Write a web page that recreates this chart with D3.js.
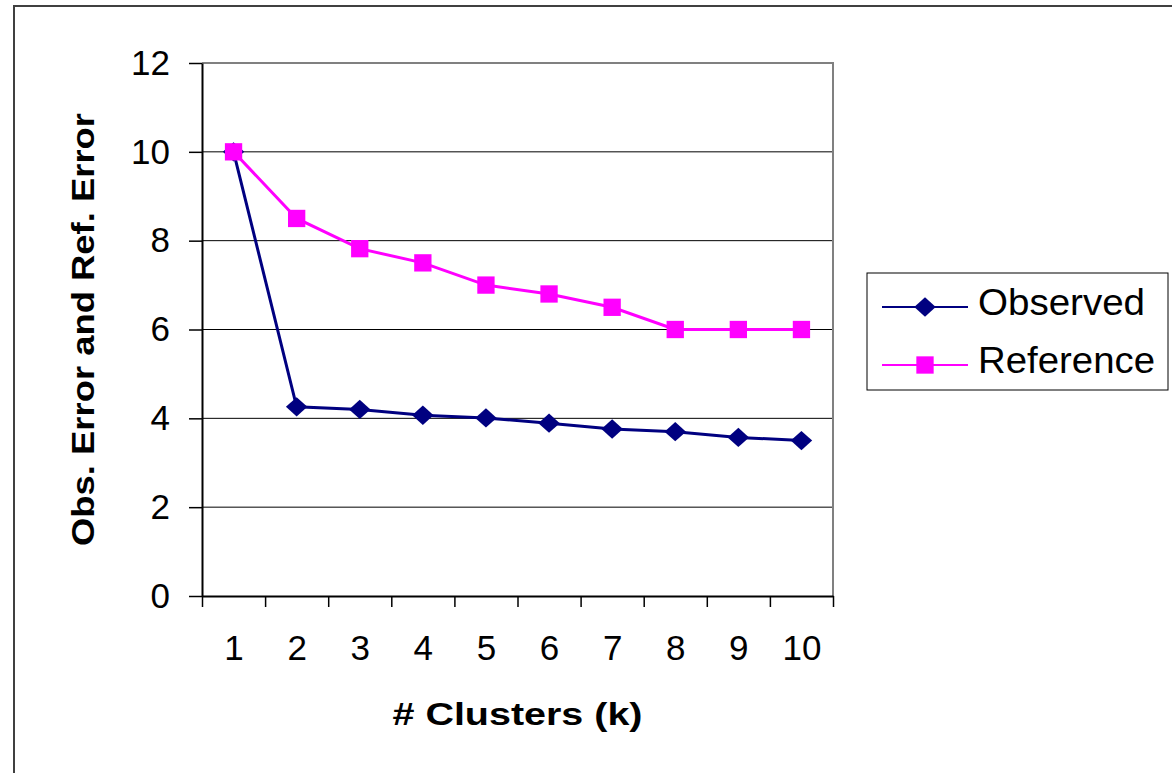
<!DOCTYPE html>
<html>
<head>
<meta charset="utf-8">
<script src="https://cdn.jsdelivr.net/npm/d3@7"></script>
<style>
  body { margin: 0; background: #fff; }
  svg { display: block; font-family: "Liberation Sans", Arial, sans-serif; }
</style>
</head>
<body>
<div id="chart"></div>
<script>
// data
const clusters = [1, 2, 3, 4, 5, 6, 7, 8, 9, 10];
const observed = [10.0, 4.26, 4.2, 4.07, 4.01, 3.89, 3.76, 3.7, 3.57, 3.5];
const reference = [10.0, 8.5, 7.82, 7.5, 7.0, 6.8, 6.5, 6.0, 6.0, 6.0];
const yTicks = [0, 2, 4, 6, 8, 10, 12];
const seriesNames = ["Observed", "Reference"];

const width = 1172, height = 773;
const plot = {left: 202, right: 833, top: 63, bottom: 596};

const svg = d3.select("#chart").append("svg")
  .attr("width", width)
  .attr("height", height);

// outer frame (runs off the right/bottom edge)
svg.append("rect")
  .attr("x", 14).attr("y", 6)
  .attr("width", width + 20).attr("height", height + 20)
  .attr("fill", "none")
  .attr("stroke", "#404040")
  .attr("stroke-width", 2);

// scales
const x = d3.scaleLinear()
  .domain([0.5, 10.5])
  .range([plot.left, plot.right]);

const y = d3.scaleLinear()
  .domain([0, 12])
  .range([plot.bottom, plot.top]);

// gridlines
svg.append("g")
  .selectAll("line")
  .data(yTicks.filter(d => d > 0 && d < 12))
  .join("line")
  .attr("x1", plot.left).attr("x2", plot.right)
  .attr("y1", d => y(d)).attr("y2", d => y(d))
  .attr("stroke", "#000")
  .attr("stroke-width", 1);

// top + right border of plot area
svg.append("path")
  .attr("d", `M${plot.left},${y(12)}H${plot.right}V${plot.bottom}`)
  .attr("fill", "none")
  .attr("stroke", "#808080")
  .attr("stroke-width", 2);

// Y axis
const yAxis = d3.axisLeft(y)
  .tickValues(yTicks)
  .tickSize(13)
  .tickPadding(19)
  .tickSizeOuter(0);

svg.append("g")
  .attr("transform", `translate(${plot.left},0)`)
  .call(yAxis)
  .call(g => g.select(".domain").attr("stroke", "#000").attr("stroke-width", 2))
  .call(g => g.selectAll(".tick line").attr("stroke", "#000").attr("stroke-width", 1.5))
  .call(g => g.selectAll(".tick text")
    .attr("fill", "#000")
    .style("font-size", "35px")
    .style("font-family", "Liberation Sans, Arial, sans-serif"));

// X axis: tick marks on category boundaries
const xAxisMarks = d3.axisBottom(x)
  .tickValues(d3.range(0.5, 11, 1))
  .tickFormat("")
  .tickSize(11)
  .tickSizeOuter(0);

svg.append("g")
  .attr("transform", `translate(0,${plot.bottom})`)
  .call(xAxisMarks)
  .call(g => g.select(".domain").attr("stroke", "#000").attr("stroke-width", 2))
  .call(g => g.selectAll(".tick line").attr("stroke", "#000").attr("stroke-width", 1.5));

// X axis labels centred in categories
const xAxisLabels = d3.axisBottom(x)
  .tickValues(clusters)
  .tickFormat(d3.format("d"))
  .tickSize(0)
  .tickPadding(39);

svg.append("g")
  .attr("transform", `translate(0,${plot.bottom})`)
  .call(xAxisLabels)
  .call(g => g.select(".domain").remove())
  .call(g => g.selectAll(".tick text")
    .attr("fill", "#000")
    .style("font-size", "35px")
    .style("font-family", "Liberation Sans, Arial, sans-serif"));

// axis titles
svg.append("text")
  .attr("x", (plot.left + plot.right) / 2)
  .attr("y", 725)
  .attr("text-anchor", "middle")
  .attr("textLength", 250)
  .attr("lengthAdjust", "spacingAndGlyphs")
  .style("font-size", "32px")
  .style("font-weight", "bold")
  .text("# Clusters (k)");

svg.append("text")
  .attr("transform", `translate(94,${(plot.top + plot.bottom) / 2}) rotate(-90)`)
  .attr("text-anchor", "middle")
  .attr("textLength", 433)
  .attr("lengthAdjust", "spacingAndGlyphs")
  .style("font-size", "32px")
  .style("font-weight", "bold")
  .text("Obs. Error and Ref. Error");

// series
const colors = {Observed: "#000080", Reference: "#ff00ff"};
const diamond = d3.symbol().type(d3.symbolSquare).size(230);
const square = d3.symbol().type(d3.symbolSquare).size(300);
const diamondTilt = " scale(1,0.9) rotate(45)";

const line = d3.line()
  .x((d, i) => x(clusters[i]))
  .y(d => y(d));

// Observed
svg.append("path")
  .datum(observed)
  .attr("d", line)
  .attr("fill", "none")
  .attr("stroke", colors.Observed)
  .attr("stroke-width", 3);

svg.selectAll(".obs")
  .data(observed)
  .join("path")
  .attr("class", "obs")
  .attr("d", diamond)
  .attr("transform", (d, i) => `translate(${x(clusters[i])},${y(d)})${diamondTilt}`)
  .attr("fill", colors.Observed);

// Reference
svg.append("path")
  .datum(reference)
  .attr("d", line)
  .attr("fill", "none")
  .attr("stroke", colors.Reference)
  .attr("stroke-width", 3);

svg.selectAll(".ref")
  .data(reference)
  .join("path")
  .attr("class", "ref")
  .attr("d", square)
  .attr("transform", (d, i) => `translate(${x(clusters[i])},${y(d)})`)
  .attr("fill", colors.Reference);

// legend
const legend = svg.append("g");
legend.append("rect")
  .attr("x", 867).attr("y", 273)
  .attr("width", 301).attr("height", 117)
  .attr("fill", "#fff")
  .attr("stroke", "#000")
  .attr("stroke-width", 1);

const legendRows = [
  {name: seriesNames[0], cy: 307, base: 315, symbol: diamond, rot: diamondTilt, len: 167},
  {name: seriesNames[1], cy: 365, base: 373, symbol: square, rot: "", len: 177}
];

legendRows.forEach(r => {
  legend.append("line")
    .attr("x1", 882).attr("x2", 968)
    .attr("y1", r.cy).attr("y2", r.cy)
    .attr("stroke", colors[r.name])
    .attr("stroke-width", 2);
  legend.append("path")
    .attr("d", r.symbol)
    .attr("transform", `translate(925,${r.cy})${r.rot}`)
    .attr("fill", colors[r.name]);
  legend.append("text")
    .attr("x", 978).attr("y", r.base)
    .attr("textLength", r.len)
    .attr("lengthAdjust", "spacingAndGlyphs")
    .style("font-size", "36px")
    .text(r.name);
});
</script>
</body>
</html>
